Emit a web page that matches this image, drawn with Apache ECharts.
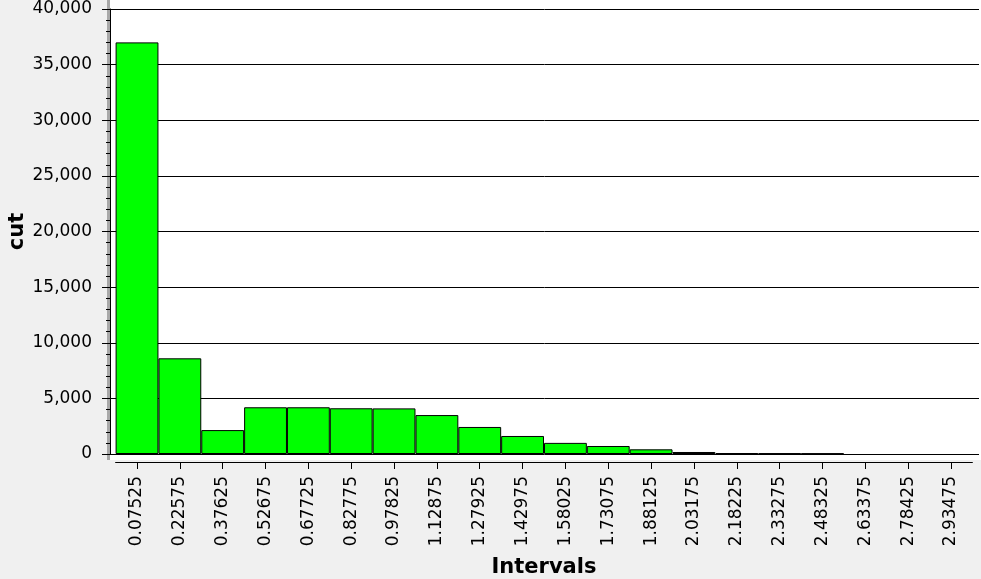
<!DOCTYPE html>
<html><head><meta charset="utf-8">
<script src="https://cdn.jsdelivr.net/npm/echarts@6/dist/echarts.min.js"></script>
<style>html,body{margin:0;padding:0;background:#f0f0f0}#c{width:981px;height:579px}</style>
</head><body><div id="c"></div>
<script>
const categories = ["0.07525","0.22575","0.37625","0.52675","0.67725","0.82775","0.97825","1.12875","1.27925","1.42975","1.58025","1.73075","1.88125","2.03175","2.18225","2.33275","2.48325","2.63375","2.78425","2.93475"];
const counts = [37000,8600,2150,4200,4200,4110,4100,3500,2430,1620,1000,720,420,180,80,60,50,0,0,0];
const yTicks = {min:0, max:40000, interval:5000};
const xName = "Intervals";
const yName = "cut";

const FONT = "DejaVu Sans";
const chart = echarts.init(document.getElementById('c'), null, {renderer:'canvas'});
chart.setOption({
  backgroundColor:'#f0f0f0',
  animation:false,
  graphic:[
    {type:'rect', z:-10, silent:true, shape:{x:108,y:0,width:873,height:460}, style:{fill:'#ffffff'}},
    {type:'line', z:-9, silent:true, shape:{x1:108.5,y1:0,x2:108.5,y2:460}, style:{stroke:'#a8a8a8',lineWidth:3}}
  ],
  grid:[
    {left:110, right:2, top:9, bottom:125, outerBoundsMode:'none', containLabel:false},
    {left:115.6, right:8.6, top:9, bottom:125, outerBoundsMode:'none', containLabel:false}
  ],
  xAxis:[
    {gridIndex:0, type:'value', show:false, min:0, max:1},
    {gridIndex:1, type:'category', data:categories, boundaryGap:true,
     axisLine:{show:true, onZero:false, lineStyle:{color:'#000',width:1}},
     offset:8,
     axisTick:{show:true, alignWithLabel:true, length:7, lineStyle:{color:'#000'}},
     axisLabel:{rotate:90, fontFamily:FONT, fontSize:17, color:'#000', margin:14, interval:0},
     name:xName, nameLocation:'middle', nameGap:106, nameMoveOverlap:false,
     nameTextStyle:{fontFamily:FONT, fontWeight:'bold', fontSize:21, color:'#000', verticalAlign:'middle'}}
  ],
  yAxis:[
    {gridIndex:0, type:'value', min:yTicks.min, max:yTicks.max, interval:yTicks.interval,
     offset:6,
     axisLine:{show:true, lineStyle:{color:'#000',width:1}},
     axisTick:{show:true, length:8, lineStyle:{color:'#000'}},
     minorTick:{show:true, splitNumber:5, length:4, lineStyle:{color:'#000'}},
     splitLine:{show:true, lineStyle:{color:'#000',width:1}},
     axisLabel:{fontFamily:FONT, fontSize:17, color:'#000', margin:12,
       formatter:v=>v.toLocaleString('en-US')},
     name:yName, nameLocation:'middle', nameGap:86, nameRotate:90, nameMoveOverlap:false,
     nameTextStyle:{fontFamily:FONT, fontWeight:'bold', fontSize:21, color:'#000', verticalAlign:'middle'}},
    {gridIndex:1, type:'value', show:false, min:yTicks.min, max:yTicks.max, splitLine:{show:false}}
  ],
  series:[{
    type:'bar', xAxisIndex:1, yAxisIndex:1, barWidth:'100%', barGap:'0%',
    data:counts.map(v => v === 0 ? {value:v, itemStyle:{borderWidth:0}} : v),
    itemStyle:{color:'#00ff00', borderColor:'#000', borderWidth:1}
  }]
});
</script></body></html>
